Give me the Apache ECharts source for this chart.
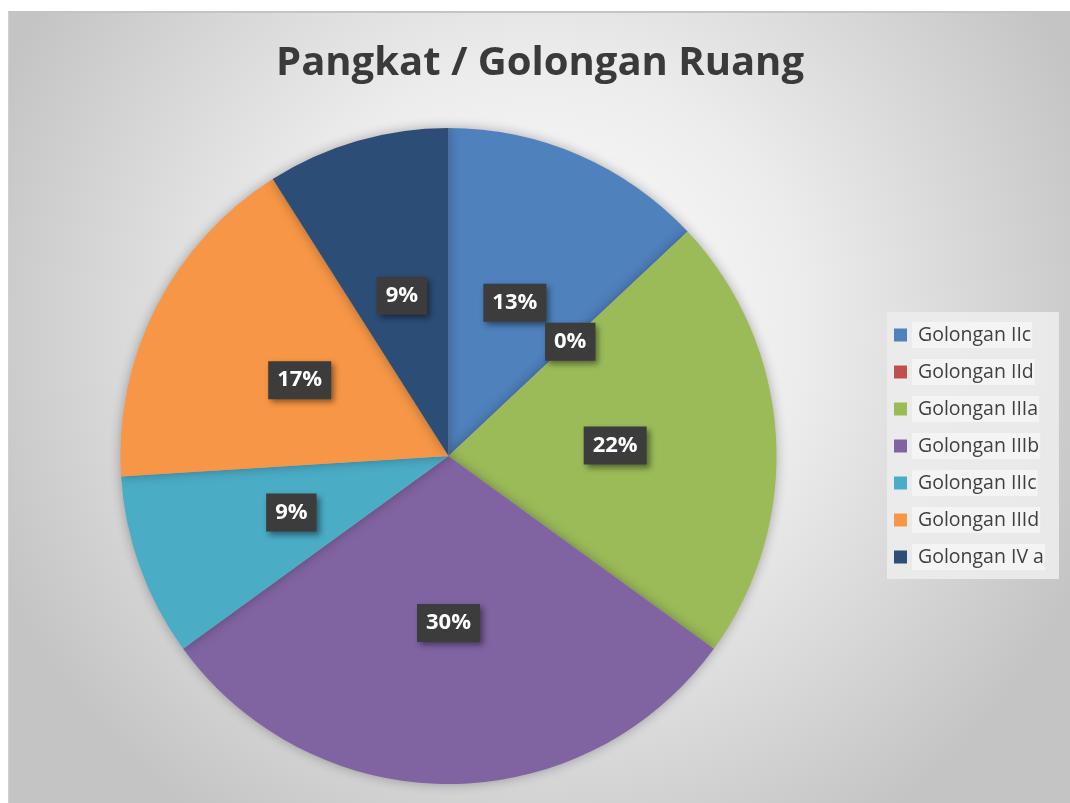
<!DOCTYPE html>
<html>
<head>
<meta charset="utf-8">
<script src="https://cdn.jsdelivr.net/npm/echarts@6/dist/echarts.min.js"></script>
<style>
	html, body { margin: 0; padding: 0; background: #ffffff; overflow: hidden; }
	#chart { position: absolute; left: 8px; top: 11px; width: 1062px; height: 792px; border-top: 2px solid #c4c4c4; border-left: 1px solid #d0d0d0; }
</style>
</head>
<body>
<div id="chart"></div>
<script>
var categories = ['Golongan IIc', 'Golongan IId', 'Golongan IIIa', 'Golongan IIIb', 'Golongan IIIc', 'Golongan IIId', 'Golongan IV a'];
var percents = [13, 0, 22, 30, 9, 17, 9];
var colors = ['#4f81bd', '#c0504d', '#9bbb59', '#8064a2', '#4bacc6', '#f79646', '#2c4d75'];

var pieData = [];
for (var i = 0; i < categories.length; i++) {
	pieData.push({ name: categories[i], value: percents[i] });
}

var chart = echarts.init(document.getElementById('chart'));
chart.setOption({
	animation: false,
	color: colors,
	backgroundColor: {
		type: 'radial',
		x: 0.5, y: 0.4, r: 0.75,
		colorStops: [
			{ offset: 0, color: '#ffffff' },
			{ offset: 0.45, color: '#ececec' },
			{ offset: 1, color: '#c4c4c4' }
		]
	},
	title: {
		text: 'Pangkat / Golongan Ruang',
		left: 'center',
		top: 26,
		textStyle: {
			fontFamily: 'Open Sans',
			fontSize: 40,
			fontWeight: 'bold',
			color: '#3a3a3a'
		}
	},
	legend: {
		orient: 'vertical',
		left: 878,
		top: 299,
		padding: [10, 14, 9, 7],
		itemWidth: 13,
		itemHeight: 13,
		itemGap: 11,
		backgroundColor: 'rgba(236,236,236,0.9)',
		icon: 'rect',
		data: categories,
		textStyle: {
			fontFamily: 'Open Sans',
			fontSize: 19.5,
			color: '#404040',
			lineHeight: 26,
			backgroundColor: 'rgba(246,246,246,0.8)',
			padding: [0, 1, 0, 6]
		}
	},
	series: [{
		type: 'pie',
		center: [439.5, 443],
		radius: 328,
		startAngle: 90,
		clockwise: true,
		avoidLabelOverlap: false,
		itemStyle: {
			shadowBlur: 12,
			shadowColor: 'rgba(0,0,0,0.3)'
		},
		label: {
			show: true,
			position: 'inside',
			formatter: function (p) {
				return p.value + '%';
			},
			fontFamily: 'Open Sans',
			fontSize: 22,
			fontWeight: 'bold',
			color: '#ffffff',
			backgroundColor: '#3c3c3c',
			padding: [6, 9, 5, 9],
			lineHeight: 27,
			shadowColor: 'rgba(0,0,0,0.45)',
			shadowBlur: 6,
			shadowOffsetX: 3,
			shadowOffsetY: 3
		},
		labelLine: { show: false },
		emphasis: { disabled: true },
		data: pieData
	}]
});
</script>
</body>
</html>
